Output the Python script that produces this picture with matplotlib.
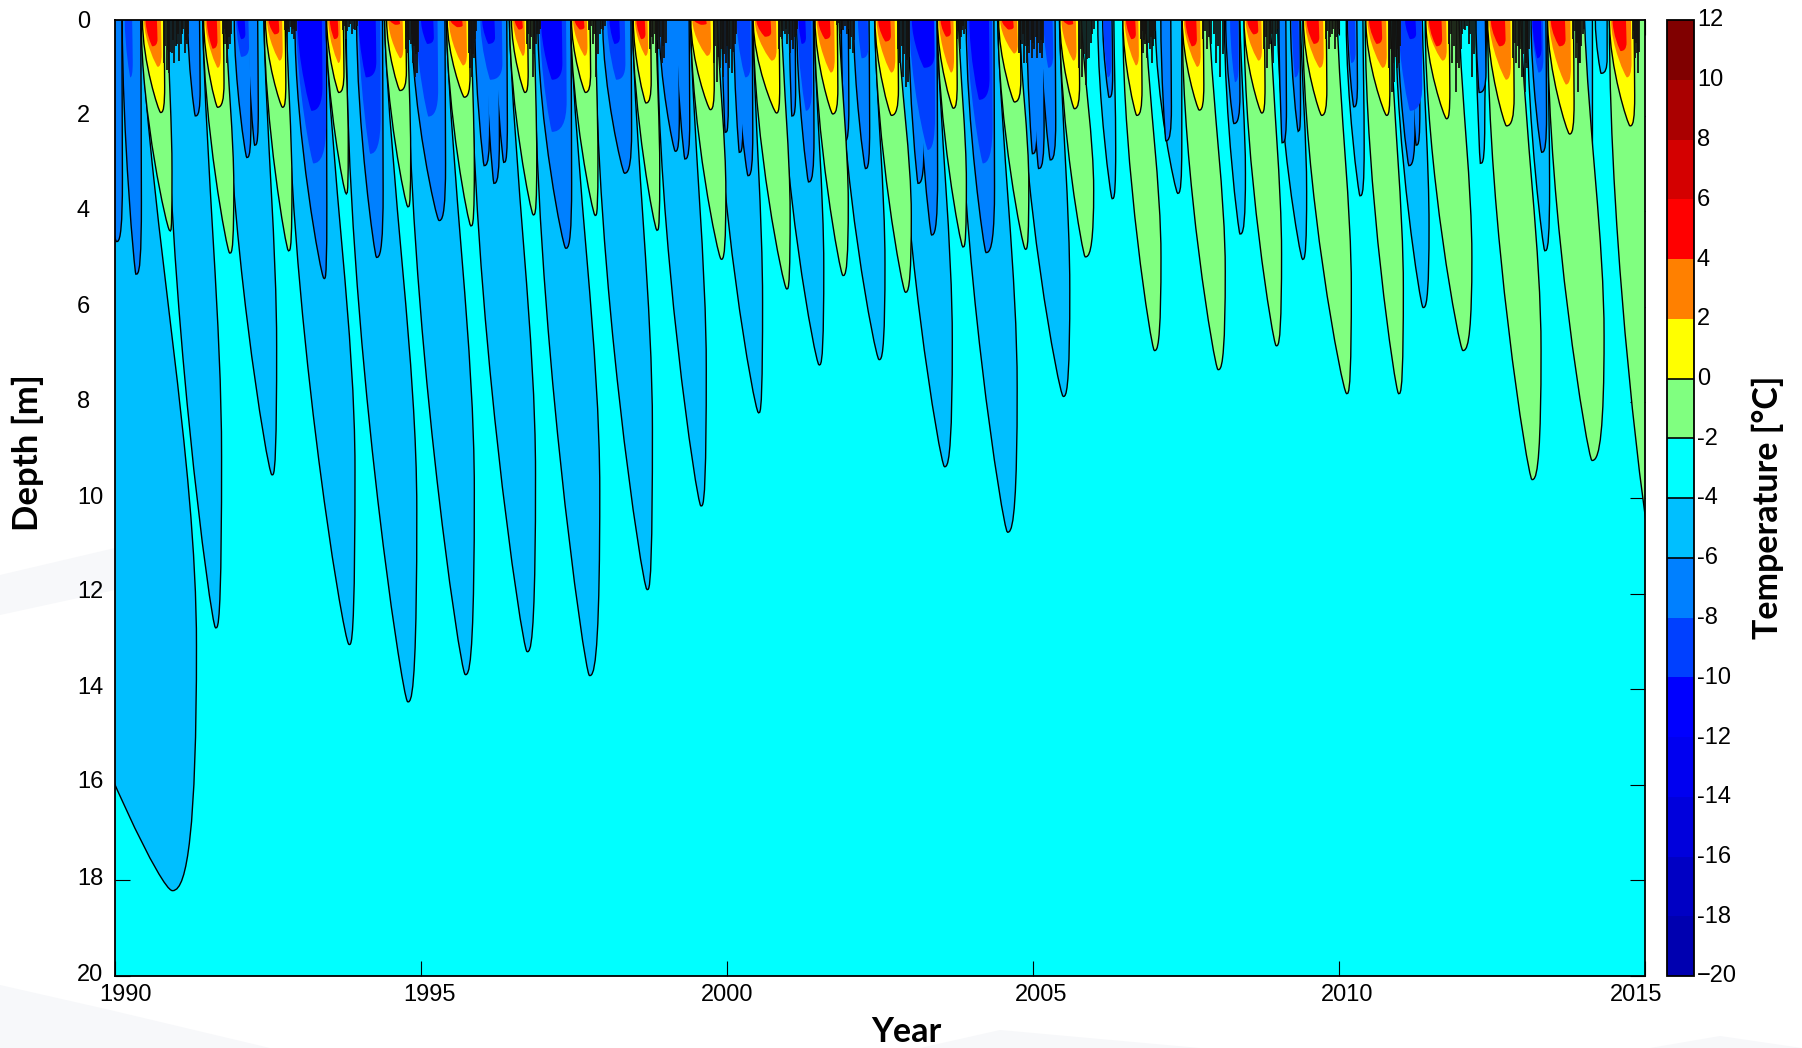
import numpy as np
import matplotlib
matplotlib.use('Agg')
import matplotlib.pyplot as plt
from matplotlib.colors import ListedColormap, BoundaryNorm
from matplotlib.cm import ScalarMappable
from matplotlib.patches import PathPatch, Polygon
from matplotlib.path import Path
from matplotlib.transforms import ScaledTranslation

plt.rcParams['font.family'] = ['Liberation Sans', 'DejaVu Sans']

# ── Data ──────────────────────────────────────────────────────────────────────
levels = list(range(-20, 14, 2))
band_colors = ['#0000B0', '#0000C4', '#0000DC', '#0000F0', '#0000FF', '#0040FF',
               '#0080FF', '#00BFFF', '#00FFFF', '#80FF80', '#FFFF00', '#FF8000',
               '#FF0000', '#D40000', '#AA0000', '#800000']
x_ticks = [1990, 1995, 2000, 2005, 2010, 2015]
y_ticks = list(range(0, 22, 2))
cb_labels = ['\u221220', '-18', '-16', '-14', '-12', '-10', '-8', '-6', '-4', '-2',
             '0', '2', '4', '6', '8', '10', '12']

# warm season, T > -2 : surface start, surface end, tip year, tip depth, bulge year
green_start = [1990.44, 1991.45, 1992.45, 1993.46, 1994.42, 1995.43, 1996.46, 1997.46, 1998.47,
               1999.42, 2000.44, 2001.44, 2002.43, 2003.45, 2004.44, 2005.45, 2006.48, 2007.45,
               2008.46, 2009.42, 2010.44, 2011.42, 2012.44, 2013.42, 2014.43]
green_end = [1990.85, 1991.80, 1992.79, 1993.75, 1994.77, 1995.81, 1996.84, 1997.84, 1998.83,
             1999.83, 2000.88, 2001.82, 2002.78, 2003.77, 2004.76, 2005.78, 2006.83, 2007.87,
             2008.87, 2009.96, 2010.83, 2011.95, 2012.96, 2014.00, 2015.00]
green_tip = [1990.90, 1991.88, 1992.84, 1993.78, 1994.79, 1995.82, 1996.84, 1997.85, 1998.86,
             1999.91, 2000.98, 2001.90, 2002.92, 2003.86, 2004.88, 2005.86, 2006.99, 2008.03,
             2008.98, 2010.13, 2010.98, 2012.03, 2013.16, 2014.14, 2015.10]
green_depth = [4.39, 4.86, 4.81, 3.61, 3.89, 4.29, 4.06, 4.07, 4.38, 4.99, 5.61, 5.33, 5.68,
               4.73, 4.78, 4.94, 6.90, 7.30, 6.80, 7.80, 7.80, 6.90, 9.60, 9.20, 11.00]
green_bulge = [1990.92, 1991.93, 1992.88, 1993.80, 1994.82, 1995.86, 1996.88, 1997.88, 1998.89,
               1999.97, 2001.02, 2001.97, 2003.00, 2003.90, 2004.92, 2005.98, 2007.08, 2008.13,
               2009.05, 2010.19, 2011.04, 2012.16, 2013.29, 2014.32, 2015.40]

# T > 0, T > 2, T > 4
yellow_start = [1990.46, 1991.46, 1992.47, 1993.47, 1994.45, 1995.44, 1996.49, 1997.47, 1998.48,
                1999.42, 2000.44, 2001.45, 2002.43, 2003.45, 2004.45, 2005.45, 2006.48, 2007.45,
                2008.46, 2009.43, 2010.45, 2011.43, 2012.44, 2013.42, 2014.43]
yellow_end = [1990.79, 1991.76, 1992.77, 1993.72, 1994.74, 1995.78, 1996.73, 1997.75, 1998.74,
              1999.77, 2000.84, 2001.79, 2002.78, 2003.74, 2004.78, 2005.74, 2006.76, 2007.77,
              2008.77, 2009.78, 2010.81, 2011.79, 2012.84, 2013.82, 2014.81]
yellow_tip = [1990.75, 1991.68, 1992.74, 1993.66, 1994.66, 1995.71, 1996.70, 1997.69, 1998.68,
              1999.73, 2000.81, 2001.73, 2002.69, 2003.70, 2004.70, 2005.68, 2006.70, 2007.72,
              2008.74, 2009.72, 2010.78, 2011.76, 2012.74, 2013.77, 2014.76]
yellow_depth = [1.92, 1.81, 1.81, 1.50, 1.46, 1.60, 1.50, 1.50, 1.72, 1.86, 1.93, 1.95, 1.98,
                1.83, 1.70, 1.84, 1.98, 1.87, 1.93, 1.98, 1.98, 2.05, 2.20, 2.37, 2.20]
orange_depth = [0.98, 1.00, 0.85, 0.90, 0.80, 0.95, 0.75, 0.75, 0.75, 0.75, 0.85, 1.10, 1.10,
                1.10, 0.70, 0.85, 0.95, 0.98, 0.85, 1.00, 1.00, 0.85, 1.25, 1.35, 1.20]
red_depth = [0.55, 0.60, 0.30, 0.40, 0.10, 0.15, 0.20, 0.20, 0.40, 0.10, 0.35, 0.40, 0.45,
             0.35, 0.20, 0.10, 0.40, 0.55, 0.30, 0.50, 0.50, 0.55, 0.55, 0.55, 0.65]

# cold season, T < -4
cold4_start = [1987.00, 1990.85, 1991.83, 1992.82, 1993.79, 1994.79, 1995.83, 1996.86, 1997.86,
               1998.87, 1999.83, 2000.88, 2001.85, 2002.82, 2003.80, 2004.80, 2006.07, 2007.01,
               2008.14, 2009.01, 2010.13, 2010.94, 2012.25, 2013.09, 2014.02, 2014.20, 2014.92]
cold4_end = [1990.41, 1991.42, 1992.42, 1993.43, 1994.39, 1995.40, 1996.43, 1997.43, 1998.44,
             1999.39, 2000.41, 2001.41, 2002.40, 2003.42, 2004.41, 2005.42, 2006.31, 2007.42,
             2008.37, 2009.36, 2010.38, 2011.35, 2012.40, 2013.40, 2014.13, 2014.37, 2015.20]
cold4_tip = [1990.94, 1991.65, 1992.57, 1993.83, 1994.79, 1995.73, 1996.74, 1997.76, 1998.70,
             1999.58, 2000.52, 2001.51, 2002.49, 2003.56, 2004.59, 2005.50, 2006.30, 2007.37,
             2008.39, 2009.41, 2010.35, 2011.38, 2012.32, 2013.37, 2014.09, 2014.29, 2015.00]
cold4_depth = [18.20, 12.70, 9.50, 13.05, 14.25, 13.68, 13.20, 13.70, 11.90, 10.15, 8.20, 7.20,
               7.09, 9.33, 10.70, 7.86, 3.72, 3.61, 4.46, 4.99, 3.66, 6.00, 2.98, 4.81, 3.21,
               1.10, 1.10]
cold4_bulge = [1991.32, 1991.73, 1992.63, 1993.91, 1994.92, 1995.86, 1996.86, 1997.91, 1998.77,
               1999.65, 2000.57, 2001.57, 2002.57, 2003.67, 2004.73, 2005.59, 2006.34, 2007.42,
               2008.46, 2009.46, 2010.40, 2011.46, 2012.37, 2013.43, 2014.13, 2014.37, 2015.20]

# T < -6
cold6_start = [1989.60, 1990.13, 1991.20, 1991.96, 1992.18, 1992.95, 1993.96, 1994.86, 1995.89,
               1996.06, 1996.22, 1996.92, 1997.98, 1998.90, 1999.18, 1999.93, 2000.15, 2000.12,
               2001.03, 2001.15, 2001.88, 2002.08, 2002.98, 2003.12, 2003.92, 2004.91, 2004.98,
               2005.14, 2006.15, 2007.10, 2008.16, 2009.03, 2009.22, 2010.15, 2010.97, 2011.18,
               2012.25, 2013.15]
cold6_end = [1990.10, 1990.41, 1991.37, 1992.20, 1992.32, 1993.44, 1994.36, 1995.38, 1996.10,
             1996.26, 1996.39, 1997.44, 1998.42, 1999.20, 1999.37, 2000.00, 2000.40, 2000.24,
             2001.10, 2001.40, 2001.97, 2002.31, 2003.20, 2003.42, 2004.35, 2005.05, 2005.16,
             2005.35, 2006.28, 2007.24, 2008.36, 2009.12, 2009.35, 2010.28, 2011.22, 2011.30,
             2012.38, 2013.37]
cold6_tip = [1990.03, 1990.35, 1991.32, 1992.16, 1992.29, 1993.42, 1994.28, 1995.30, 1996.04,
             1996.20, 1996.36, 1997.37, 1998.33, 1999.16, 1999.32, 1999.98, 2000.35, 2000.21,
             2001.07, 2001.34, 2001.93, 2002.27, 2003.13, 2003.35, 2004.24, 2005.00, 2005.10,
             2005.29, 2006.25, 2007.18, 2008.29, 2009.08, 2009.34, 2010.25, 2011.15, 2011.27,
             2012.30, 2013.32]
cold6_depth = [4.62, 5.30, 1.99, 2.86, 2.60, 5.39, 4.95, 4.18, 3.03, 3.40, 2.96, 4.76, 3.19,
               2.73, 2.89, 2.33, 3.24, 2.75, 1.99, 3.37, 2.51, 3.09, 3.40, 4.48, 4.85, 2.78,
               3.09, 2.91, 1.60, 2.51, 2.15, 2.55, 2.30, 1.80, 3.03, 2.60, 1.50, 2.75]

# T < -8
cold8_start = [1990.16, 1991.98, 1992.96, 1993.98, 1994.92, 1995.97, 1996.94, 1998.04, 2000.16,
               2001.15, 2002.14, 2002.98, 2003.92, 2005.17, 2006.15, 2008.22, 2009.23, 2010.15,
               2010.97, 2013.15]
cold8_end = [1990.28, 1992.18, 1993.44, 1994.33, 1995.27, 1996.32, 1997.37, 1998.33, 2000.38,
             2001.38, 2002.30, 2003.39, 2004.33, 2005.32, 2006.27, 2008.35, 2009.34, 2010.26,
             2011.35, 2013.33]
cold8_tip = [1990.25, 1992.06, 1993.24, 1994.17, 1995.12, 1996.13, 1997.14, 1998.19, 2000.30,
             2001.29, 2002.20, 2003.28, 2004.18, 2005.25, 2006.22, 2008.30, 2009.28, 2010.20,
             2011.16, 2013.26]
cold8_depth = [1.20, 0.77, 3.00, 2.80, 2.02, 1.25, 2.34, 1.25, 1.20, 1.90, 0.80, 2.72, 3.00,
               1.00, 1.20, 1.30, 1.20, 0.90, 1.90, 1.10]

# T < -10
cold10_start = [1992.00, 1992.98, 1993.98, 1995.00, 1996.00, 1996.96, 1998.08, 2001.17, 2003.02,
                2003.96, 2011.08, 2013.16]
cold10_end = [1992.12, 1993.38, 1994.26, 1995.20, 1996.20, 1997.30, 1998.24, 2001.28, 2003.38,
              2004.28, 2011.25, 2013.30]
cold10_tip = [1992.06, 1993.21, 1994.10, 1995.10, 1996.10, 1997.14, 1998.16, 2001.22, 2003.22,
              2004.12, 2011.16, 2013.24]
cold10_depth = [0.40, 1.90, 1.20, 0.50, 0.50, 1.25, 0.50, 0.50, 1.00, 1.67, 0.40, 0.80]

# jagged contours close to the surface, after each summer
noise_start = [1990.80, 1991.76, 1992.77, 1993.72, 1994.76, 1995.78, 1996.73, 1997.75, 1998.75,
               1999.78, 2000.85, 2001.80, 2002.79, 2003.76, 2004.77, 2005.75, 2006.76, 2007.77,
               2008.78, 2009.78, 2010.82, 2011.80, 2012.85, 2013.83, 2014.81]
noise_end = [1991.20, 1991.90, 1992.95, 1993.95, 1994.95, 1995.90, 1996.95, 1998.00, 1999.00,
             2000.15, 2001.15, 2002.08, 2002.98, 2003.90, 2005.17, 2006.00, 2007.00, 2008.10,
             2009.00, 2010.00, 2011.00, 2012.20, 2013.10, 2014.00, 2014.90]
noise_depth = [[.9, 1.05, 1.1, .7, .9, .5, .85, .3, .7, .5], [.3, .5, .9, .6, .5],
               [.2, .3, .25, .3, .4], [.2, .4, .15, .3, .2], [.6, .7, .5, .9, 1.2, 1.1],
               [.7, 1.0, 1.2, .8, .4], [.5, .6, 1.2, .5, .3], [.2, .5, 1.2, .3, .2],
               [.6, .5, .7, .6, .9, .8], [.9, 1.3, 1.0, 1.2, .9, 1.0, 1.1, .5],
               [.6, .4, .3, .5, .7, .6, .3], [.1, .3, .2, .3, .6, .7], [.6, .9, 1.2, 1.4, 1.3],
               [.4, .6, .2, .3], [.7, .5, .9, .9, .7, .8, .6, .8, .7, .8], [1.0, 1.2, 1.35, .8, .3],
               [.4, .7, .5, .8, .6, .9, .4], [.4, .6, .5, .9, 1.2], [.6, 1.0, .5, .9, .3],
               [.4, .6, .3, .6, .3], [1.0, 1.5, 1.3, 1.0, .9], [.5, .9, 1.5, 1.0, .3, .2, .5, 1.2],
               [.8, .9, 1.0, 1.2, 1.5, 1.0], [.4, .8, 1.5, .9, .3], [.4, .8, .7, 1.1]]

# ── Canvas ────────────────────────────────────────────────────────────────────
W, H = 1802, 1048
fig = plt.figure(figsize=(W / 100, H / 100), dpi=100, facecolor='white')

# faint template swooshes behind the chart
for pts in [[(0, 575), (115, 548), (115, 590), (0, 615)],
            [(0, 985), (110, 1010), (270, 1048), (0, 1048)],
            [(920, 1048), (1000, 1030), (1200, 1048)],
            [(1650, 1048), (1720, 1036), (1802, 1048)]]:
    fig.add_artist(Polygon([(x / W, 1 - y / H) for x, y in pts], closed=True, fc='#f7f8fa',
                           ec='none', transform=fig.transFigure, zorder=0))

ax = fig.add_axes([115 / W, 1 - 976 / H, 1530 / W, 956 / H], facecolor=band_colors[8])
ax.set_xlim(1990, 2015)
ax.set_ylim(20, 0)


def lobe_path(s, e, t, d, r):
    """Tilted lobe from the surface: slanted left edge, rounded tip, bulge, back up."""
    verts = [(s, 0), (s, 0.45 * d), (t - 0.08 * (t - s), d), (t, d),
             (t + 0.6 * (r - t), d), (r, 0.93 * d), (r, 0.72 * d),
             (r, 0.5 * d), (e + 0.2 * (r - e), 0.25 * d), (e, 0), (s, 0)]
    codes = [Path.MOVETO, Path.CURVE4, Path.CURVE4, Path.CURVE4, Path.CURVE4, Path.CURVE4,
             Path.CURVE4, Path.CURVE4, Path.CURVE4, Path.CURVE4, Path.CLOSEPOLY]
    return Path(verts, codes)


def draw_family(starts, ends, tips, depths, bulges, color, line=True, z=2):
    paths = [lobe_path(*v) for v in zip(starts, ends, tips, depths, bulges)]
    if line:
        # edge first at double width, fills on top: only the outline of the union stays
        for p in paths:
            ax.add_patch(PathPatch(p, fc='none', ec='black', lw=2.0, zorder=z))
    for p in paths:
        ax.add_patch(PathPatch(p, fc=color, ec='none', lw=0, zorder=z + 0.1))


def bulge_of(ends, tips):
    return [max(e, t) + 0.01 for e, t in zip(ends, tips)]


draw_family(cold4_start, cold4_end, cold4_tip, cold4_depth, cold4_bulge, '#00BFFF', z=2)
draw_family(cold6_start, cold6_end, cold6_tip, cold6_depth, bulge_of(cold6_end, cold6_tip),
            '#0080FF', z=3)
draw_family(cold8_start, cold8_end, cold8_tip, cold8_depth, bulge_of(cold8_end, cold8_tip),
            '#0040FF', line=False, z=4)
draw_family(cold10_start, cold10_end, cold10_tip, cold10_depth, bulge_of(cold10_end, cold10_tip),
            '#0000FF', line=False, z=5)
draw_family(green_start, green_end, green_tip, green_depth, green_bulge, '#80FF80', z=6)
draw_family(yellow_start, yellow_end, yellow_tip, yellow_depth, bulge_of(yellow_end, yellow_tip),
            '#FFFF00', z=7)

# orange and red sit inside the yellow lobes
y_s, y_e, y_t = np.array(yellow_start), np.array(yellow_end), np.array(yellow_tip)
o_s, o_e = y_s + 0.015, y_e - 0.04
o_t = y_s + 0.72 * (y_e - y_s)
draw_family(o_s, o_e, o_t, orange_depth, bulge_of(o_e, o_t), '#FF8000', line=False, z=8)
r_s, r_e = y_s + 0.04, y_s + 0.68 * (y_e - y_s)
r_t = y_s + 0.45 * (y_e - y_s)
draw_family(r_s, r_e, r_t, red_depth, bulge_of(r_e, r_t), '#FF0000', line=False, z=9)

for s, e, spikes in zip(noise_start, noise_end, noise_depth):
    xs = np.linspace(s, e, len(spikes) * 2)
    ds = np.repeat(spikes, 2) * np.tile([1.0, 0.6], len(spikes))
    ax.vlines(xs, 0, ds, color='#141210', lw=1.3, zorder=10)

# ── Axes furniture ────────────────────────────────────────────────────────────
ax.set_xticks(x_ticks)
ax.set_yticks(y_ticks)
ax.tick_params(direction='in', length=10.8, width=0.8, top=True, right=True, zorder=12)
ax.tick_params(axis='x', labelsize=17, pad=6)
ax.tick_params(axis='y', labelsize=17, pad=27.5)
for side in ax.spines.values():
    side.set_linewidth(1.3)
    side.set_zorder(13)

for lab, dx in zip(ax.get_xticklabels(), [11, 9, 0, 8, 8, -9]):
    lab.set_transform(lab.get_transform() + ScaledTranslation(dx / 100, 0, fig.dpi_scale_trans))
for lab, dy in zip(ax.get_yticklabels(), [0, 2, 3, 2, 3, 3, 4, 4, 5, 4, 4]):
    lab.set_ha('left')
    lab.set_transform(lab.get_transform() + ScaledTranslation(0, dy / 100, fig.dpi_scale_trans))

fig.text(906 / W, 1 - 1032 / H, 'Year', ha='center', va='center', fontsize=24.5,
         fontweight='bold', family='Lato')
fig.text(28 / W, 1 - 453 / H, 'Depth [m]', ha='center', va='center', rotation=90, fontsize=25,
         fontweight='bold', family='Lato')
fig.text(1768 / W, 1 - 507 / H, 'Temperature [\u00b0C]', ha='center', va='center', rotation=90,
         fontsize=24.5, fontweight='bold', family='Lato')

# ── Colour bar ────────────────────────────────────────────────────────────────
cax = fig.add_axes([1667 / W, 1 - 976 / H, 27 / W, 956 / H])
cmap = ListedColormap(band_colors)
norm = BoundaryNorm(levels, cmap.N)
cb = fig.colorbar(ScalarMappable(norm=norm, cmap=cmap), cax=cax, ticks=levels,
                  spacing='uniform', drawedges=False)
cb.ax.set_yticklabels(cb_labels)
cb.ax.tick_params(length=0, labelsize=17, pad=2)
cb.outline.set_linewidth(1.3)
cb.ax.hlines([0, -2, -4, -6], -20, 12, colors='black', lw=1.2, transform=cb.ax.get_yaxis_transform())
for lab in cb.ax.get_yticklabels():
    lab.set_transform(lab.get_transform() + ScaledTranslation(0, 2 / 100, fig.dpi_scale_trans))

fig.savefig('out.png', dpi=100, facecolor='white')
